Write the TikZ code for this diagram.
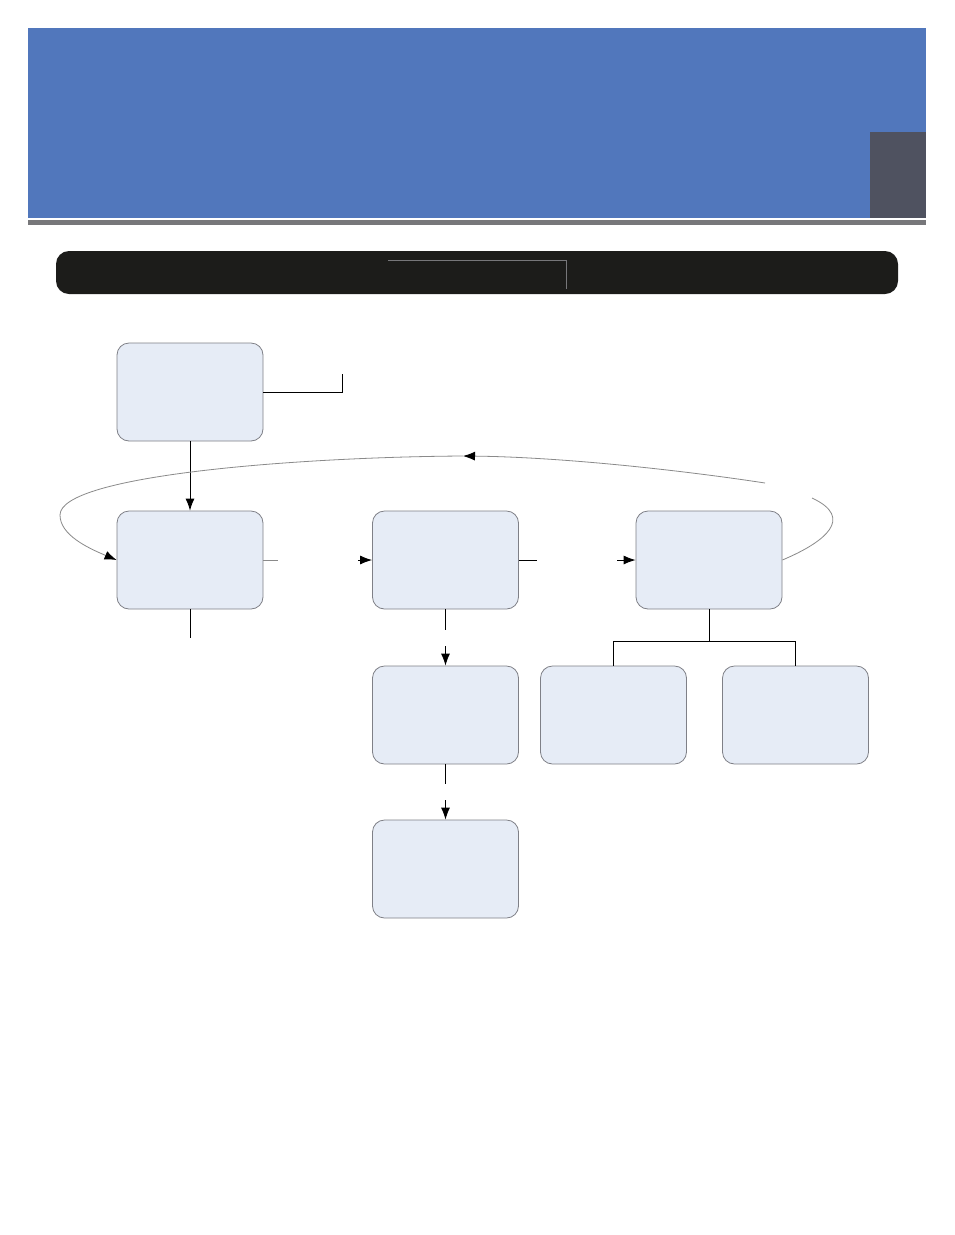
\documentclass[tikz,border=0pt]{standalone}
\usetikzlibrary{arrows.meta}
\definecolor{hdrblue}{HTML}{5177BC}
\definecolor{hdrdark}{HTML}{4F5260}
\definecolor{hdrgray}{HTML}{77777A}
\definecolor{barblack}{HTML}{1C1C1A}
\definecolor{boxfill}{HTML}{E6ECF6}
\definecolor{boxline}{HTML}{7F8087}
\definecolor{faintline}{HTML}{8A8A8A}
\begin{document}
\begin{tikzpicture}[x=1pt,y=-1pt,
  box/.style={draw=boxline, fill=boxfill, rounded corners=12pt, minimum width=146pt, minimum height=98pt, inner sep=0pt, line width=0.8pt},
  conn/.style={draw=black, line width=0.9pt},
  tipstyle/.style={-{Latex[length=12pt,width=9pt,color=black]}},
  arr/.style={conn,tipstyle},
  faint/.style={draw=faintline, line width=0.8pt}]
\useasboundingbox (0,0) rectangle (954,1235);
\fill[white] (0,0) rectangle (954,1235);
% header
\fill[hdrblue] (28,28) rectangle (926,218);
\fill[hdrdark] (870,132) rectangle (926,218);
\fill[hdrgray] (28,220) rectangle (926,225);
% black bar
\fill[barblack, rounded corners=13pt] (56,251) rectangle (898,294);
\draw[hdrgray, line width=0.8pt] (388,260) -- (566,260) -- (566,289);
% boxes
\node[box] (A) at (190,392) {};
\node[box] (B) at (190,560) {};
\node[box] (C) at (445.5,560) {};
\node[box] (D) at (709,560) {};
\node[box] (E) at (445.5,715) {};
\node[box] (F) at (613.5,715) {};
\node[box] (G) at (795.5,715) {};
\node[box] (H) at (445.5,869) {};
% connectors
\coordinate (a1) at (342,392);
\coordinate (a2) at (342,374);
\draw[conn] (A.east) -- (a1) -- (a2);
\draw[arr] (A.south) -- (B.north);
\coordinate (b1) at (278,560);
\draw[faint] (B.east) -- (b1);
\coordinate (c0) at (358,560);
\draw[arr] (c0) -- (C.west);
\coordinate (b2) at (190,638);
\draw[conn] (B.south) -- (b2);
\coordinate (c1) at (537,560);
\draw[conn] (C.east) -- (c1);
\coordinate (d0) at (617,560);
\draw[arr] (d0) -- (D.west);
\coordinate (c2) at (445.5,630);
\draw[conn] (C.south) -- (c2);
\coordinate (e0) at (445.5,646);
\draw[arr] (e0) -- (E.north);
\coordinate (e1) at (445.5,784);
\draw[conn] (E.south) -- (e1);
\coordinate (h0) at (445.5,800);
\draw[arr] (h0) -- (H.north);
\coordinate (dj) at (709,641);
\draw[conn] (D.south) -- (dj);
\draw[conn] (F.north) |- (dj) -| (G.north);
% loop back
\coordinate (r1) at (812,498);
\draw[faint] (D.east) .. controls (825,542) and (855,518) .. (r1);
\coordinate (r2) at (765,483);
\coordinate (tip) at (463,456);
\draw[faint, tipstyle] (r2) .. controls (680,470) and (560,457) .. (tip);
\coordinate (lft) at (60,515);
\draw[faint, tipstyle] (tip) .. controls (300,457) and (60,475) .. (lft) .. controls (60,535) and (88,548) .. (B.west);
\end{tikzpicture}
\end{document}
